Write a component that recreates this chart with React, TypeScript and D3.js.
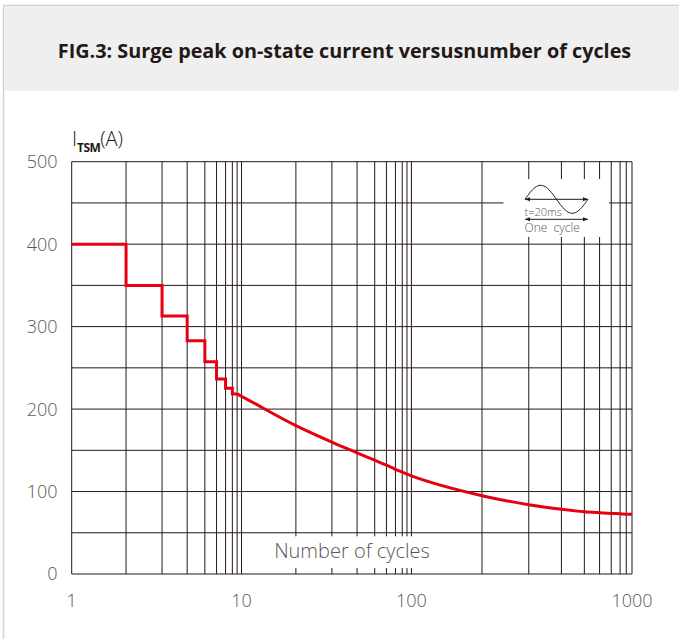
import React from 'react';
import * as d3 from 'd3';

// ---------------- data ----------------
const stepCycles = [1, 2, 3, 4, 5, 6, 7, 8, 9];
const stepCurrent = [400, 350, 313, 283, 257.5, 236.5, 225.2, 218.3, 218.3];
const curveCycles = [9, 10, 20, 30, 40, 50, 60, 70, 80, 90, 100, 200, 300, 400, 500, 600, 700, 800, 900, 1000];
const curveCurrent = [218.3, 215.5, 180, 160, 147, 138, 132, 127, 123.5, 121, 119, 95, 84, 78.5, 75.5, 74.3, 73.5, 73, 72.6, 72.4];
const yTickValues = [0, 100, 200, 300, 400, 500];
const yGridValues = [0, 50, 100, 150, 200, 250, 300, 350, 400, 450, 500];
const xTickValues = [1, 10, 100, 1000];
const xTickLabels = ['1', '10', '100', '1000'];
const mantissas = [1, 2, 3, 4, 5, 6, 7, 8, 9, 10];
const decades = [1, 10, 100];
// the printed graph paper is not a true log grid: calibration of the paper
const mantissaWarp = [0, 0.32, 0.532, 0.68, 0.784, 0.853, 0.906, 0.946, 0.974, 1];
const decadeEdges = [0, 0.3031, 0.6063, 1];

const W = 679;
const H = 639;
const plotL = 71.7;
const plotR = 632;
const plotT = 161.7;
const plotB = 574;

const FONT = "'Open Sans', 'Noto Sans', sans-serif";
const DARK = '#231815';
const GREY = '#595757';
const RED = '#e60012';

const pw = plotR - plotL;
const decadeScale = d3.scaleLinear().domain([0, 1, 2, 3]).range(decadeEdges.map((f) => plotL + f * pw));
const warpScale = d3.scaleLinear().domain(mantissas).range(mantissaWarp);
const x = (v: number) => {
  const l = Math.log10(v);
  const d = Math.max(0, Math.min(2, Math.floor(l + 1e-9)));
  const m = v / Math.pow(10, d);
  return decadeScale(d + warpScale(m));
};
const y = d3.scaleLinear().domain([0, 500]).range([plotB, plotT]);

const xGridValues: number[] = [];
decades.forEach((d) => mantissas.forEach((m, i) => {
  if (i === 0 && d !== 1) return;
  xGridValues.push(d * m);
}));

export default function App() {
  const stepLine = d3
    .line<[number, number]>()
    .x((p) => x(p[0]))
    .y((p) => y(p[1]))
    .curve(d3.curveStepAfter);
  const smoothLine = d3
    .line<[number, number]>()
    .x((p) => x(p[0]))
    .y((p) => y(p[1]))
    .curve(d3.curveMonotoneX);
  const stepPts = stepCycles.map((c, i) => [c, stepCurrent[i]] as [number, number]);
  const curvePts = curveCycles.map((c, i) => [c, curveCurrent[i]] as [number, number]);

  // inset sine icon (decorative glyph)
  const wx0 = 525, wx1 = 588, wy = 199.3, wa = 14;
  const wave = d3
    .line<number>()
    .x((t) => wx0 + t * (wx1 - wx0))
    .y((t) => wy - wa * Math.sin(t * 2 * Math.PI))(d3.range(0, 1.0001, 0.02));

  const labelBoxL = x(10) + 1;
  const labelBoxR = x(200) - 1;

  return (
    <svg
      width={W}
      height={H}
      style={{ position: 'absolute', left: 0, top: 0, background: '#fff' }}
      fontFamily={FONT}
    >
      <defs>
        <marker id="ah" viewBox="0 0 10 10" refX="10" refY="5" markerWidth="7" markerHeight="5" orient="auto-start-reverse" markerUnits="userSpaceOnUse">
          <path d="M0,1 L10,5 L0,9 Z" fill={DARK} />
        </marker>
      </defs>
      {/* card */}
      <rect x={3.5} y={5.5} width={W + 10} height={H + 10} fill="#fff" stroke="#d2d2d2" strokeWidth={1.5} />
      <rect x={4.3} y={6.3} width={W} height={84.4} fill="#efefef" />
      <text x={344.5} y={57.5} textAnchor="middle" fontSize={19.8} fontWeight={700} fill={DARK}>
        FIG.3: Surge peak on-state current versusnumber of cycles
      </text>

      {/* y axis title */}
      <text x={72} y={145.5} fill={DARK}>
        <tspan fontSize={20} fontWeight={300}>I</tspan>
        <tspan fontSize={12} fontWeight={700} dy={6} letterSpacing={-0.6}>TSM</tspan>
        <tspan fontSize={20} fontWeight={300} dy={-6}>(A)</tspan>
      </text>

      {/* grid */}
      <g stroke={DARK} strokeWidth={1} fill="none">
        {yGridValues.map((v) => (
          <line key={'h' + v} x1={plotL} x2={plotR} y1={y(v)} y2={y(v)} />
        ))}
        {xGridValues.map((v) => (
          <line key={'v' + v} x1={x(v)} x2={x(v)} y1={plotT} y2={plotB} />
        ))}
      </g>

      {/* white panel for x-axis title */}
      <rect x={labelBoxL} y={536.3} width={labelBoxR - labelBoxL} height={31.7} fill="#fff" />
      <text x={352} y={558} textAnchor="middle" fontSize={20} fontWeight={300} fill={GREY}>
        Number of cycles
      </text>

      {/* inset */}
      <rect x={503.5} y={179} width={105.5} height={58} fill="#fff" />
      <path d={wave || ''} fill="none" stroke={DARK} strokeWidth={1} />
      <line x1={wx0} x2={wx1} y1={wy} y2={wy} stroke={DARK} strokeWidth={1} markerStart="url(#ah)" markerEnd="url(#ah)" />
      <text x={524.5} y={215.5} fontSize={11} fontWeight={300} fill={GREY}>t=20ms</text>
      <line x1={wx0} x2={wx1} y1={219.3} y2={219.3} stroke={DARK} strokeWidth={1} markerStart="url(#ah)" markerEnd="url(#ah)" />
      <text x={524.5} y={232} fontSize={12} fontWeight={300} fill={GREY} style={{ whiteSpace: 'pre' }}>
        One  cycle
      </text>

      {/* curve */}
      <path d={stepLine(stepPts) || ''} fill="none" stroke={RED} strokeWidth={3} strokeLinejoin="miter" />
      <path d={smoothLine(curvePts) || ''} fill="none" stroke={RED} strokeWidth={3} strokeLinejoin="round" />

      {/* tick labels */}
      {yTickValues.map((v) => (
        <text key={'yt' + v} x={57.5} y={y(v)} dy="0.36em" textAnchor="end" fontSize={18} fontWeight={300} fill={GREY}>
          {v}
        </text>
      ))}
      {xTickValues.map((v, i) => (
        <text key={'xt' + v} x={x(v)} y={607} textAnchor="middle" fontSize={18} fontWeight={300} fill={GREY}>
          {xTickLabels[i]}
        </text>
      ))}
    </svg>
  );
}
